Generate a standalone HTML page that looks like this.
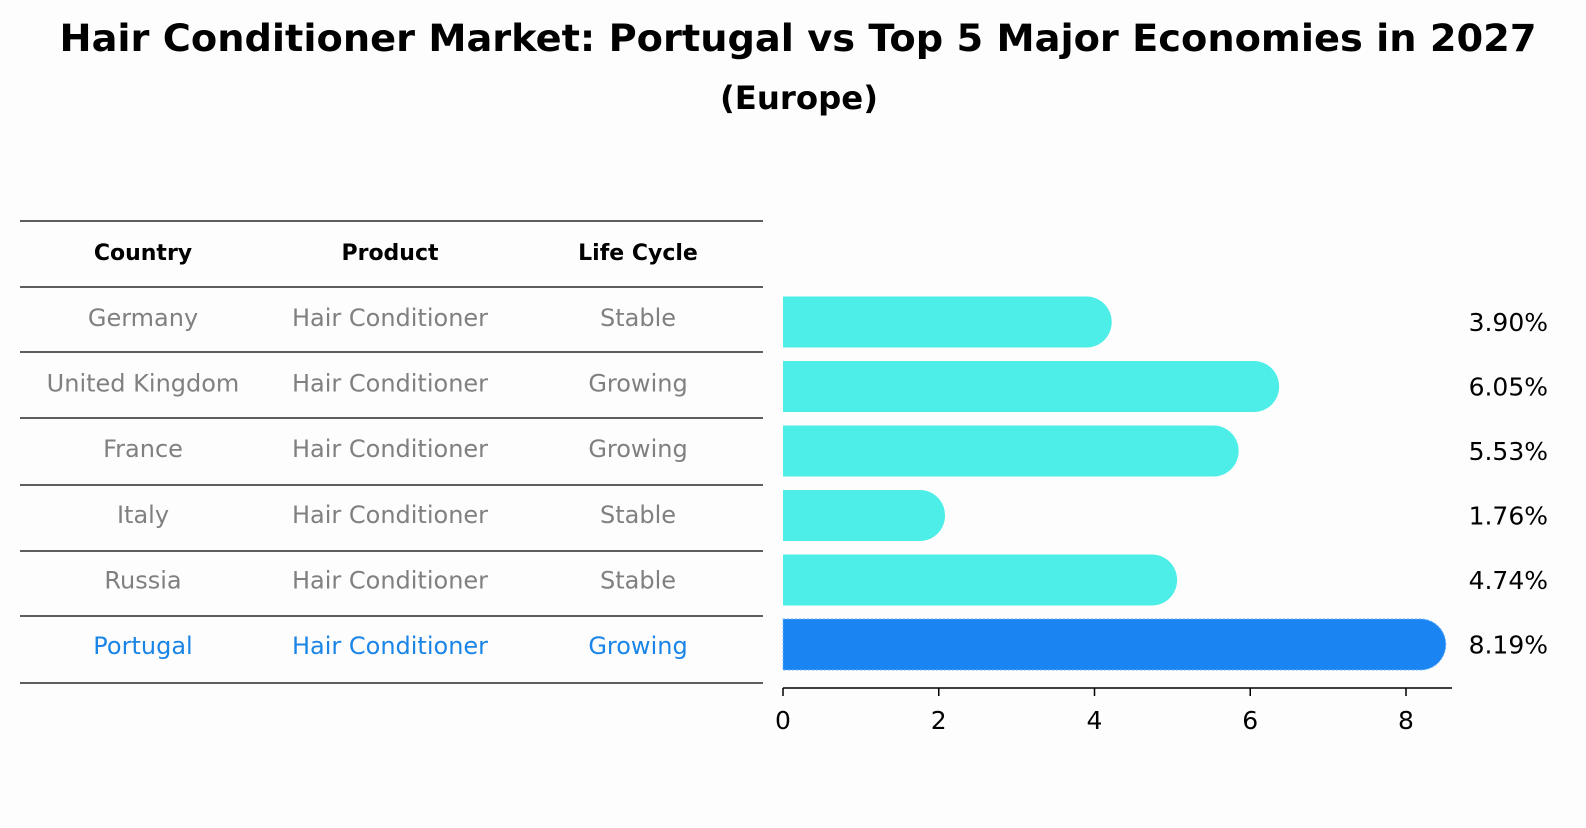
<!DOCTYPE html>
<html><head><meta charset="utf-8"><style>
body{margin:0;background:#fdfdfd;font-family:"Liberation Sans","DejaVu Sans",sans-serif;}
svg text{font-family:"DejaVu Sans","Liberation Sans",sans-serif;}
</style></head><body>
<svg id="c" width="1586" height="823" xmlns="http://www.w3.org/2000/svg">
<rect width="1586" height="823" fill="#fdfdfd"/>
<text x="798" y="51" text-anchor="middle" font-size="37" font-weight="bold" textLength="1477" lengthAdjust="spacingAndGlyphs">Hair Conditioner Market: Portugal vs Top 5 Major Economies in 2027</text>
<text x="799" y="109" text-anchor="middle" font-size="32" font-weight="bold" textLength="158" lengthAdjust="spacingAndGlyphs">(Europe)</text>
<g id="table"></g>
<g id="bars"></g>
</svg>
<script>
const countries=["Germany","United Kingdom","France","Italy","Russia","Portugal"];
const products=["Hair Conditioner","Hair Conditioner","Hair Conditioner","Hair Conditioner","Hair Conditioner","Hair Conditioner"];
const lifeCycles=["Stable","Growing","Growing","Stable","Stable","Growing"];
const growth=[3.90,6.05,5.53,1.76,4.74,8.19];
const xTicks=[0,2,4,6,8];
const NS="http://www.w3.org/2000/svg";
function mk(tag,attrs,parent){const e=document.createElementNS(NS,tag);for(const k in attrs)e.setAttribute(k,attrs[k]);parent.appendChild(e);return e;}
const tbl=document.getElementById('table'),bars=document.getElementById('bars');
const lineYs=[221,287,352,418,485,551,616,683];
lineYs.forEach(y=>{const l=mk('line',{x1:20,x2:763,y1:y,y2:y,stroke:'#000','stroke-width':1.2},tbl);

});
const colX=[143,390,638];
["Country","Product","Life Cycle"].forEach((h,i)=>{const t=mk('text',{x:colX[i],y:260,'text-anchor':'middle','font-size':22,'font-weight':'bold'},tbl);t.textContent=h;

});
const rowH=65.6;
countries.forEach((c,i)=>{const cy=318+i*rowH;const col=i==5?'#1a85e6':'#808080';
[c,products[i],lifeCycles[i]].forEach((v,j)=>{const t=mk('text',{x:colX[j],y:cy+8,'text-anchor':'middle','font-size':24,fill:col},tbl);t.textContent=v;

});});
const x0=783,sx=(1406-783)/8;const X=v=>x0+v*sx;
const bh=51,r=25;
growth.forEach((v,i)=>{const cy=322+i*64.5;const xe=X(v);const top=cy-bh/2,bot=cy+bh/2;
const p=mk('path',{d:`M${x0},${top} H${xe} A${r},${bh/2} 0 0 1 ${xe},${bot} H${x0} Z`,fill:i==5?'#1a85f2':'#4deee8'},bars);
if(i==5){p.setAttribute('stroke','#6fb4ff');p.setAttribute('stroke-dasharray','2 2');}


const t=mk('text',{x:1548,y:cy+9,'text-anchor':'end','font-size':25},bars);t.textContent=v.toFixed(2)+'%';

});
const ax=mk('line',{x1:x0,x2:1452,y1:688,y2:688,stroke:'#000','stroke-width':1.5},bars);


xTicks.forEach(v=>{const tk=mk('line',{x1:X(v),x2:X(v),y1:688,y2:696,stroke:'#000','stroke-width':1.5},bars);


const t=mk('text',{x:X(v),y:729,'text-anchor':'middle','font-size':25},bars);t.textContent=v;

});
</script>
</body></html>
